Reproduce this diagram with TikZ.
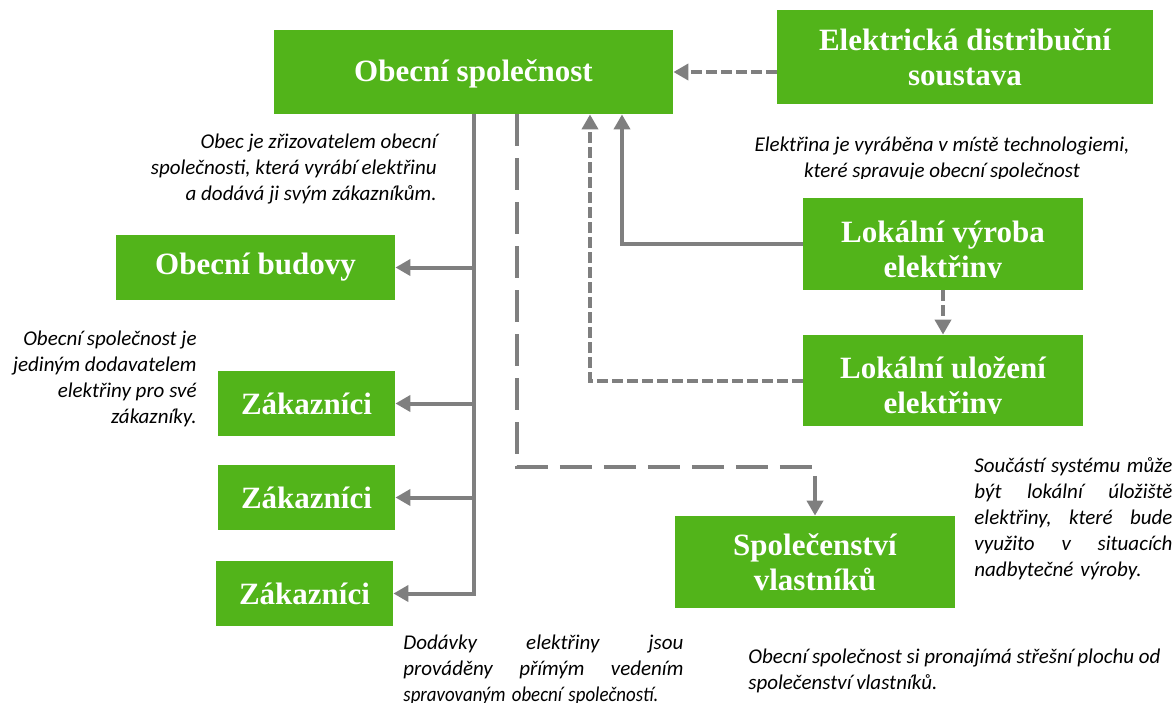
\documentclass[tikz,border=0pt]{standalone}
\usepackage{fontspec}
\usepackage{graphicx}
\setmainfont{Liberation Serif}
\newfontfamily\notefont{Carlito}
\usetikzlibrary{arrows.meta,positioning}
\definecolor{boxgreen}{HTML}{52B41A}
\definecolor{linegray}{HTML}{7F7F7F}

\begin{document}
\begin{tikzpicture}[x=0.5pt, y=-0.5pt, >={Triangle[length=7.5pt,width=8pt]},
  greenbox/.style={fill=boxgreen, text=white, inner sep=0pt, align=center, font=\fontsize{15.5}{17.5}\selectfont\bfseries},
  note/.style={inner sep=0pt, font=\notefont\itshape\fontsize{10.5}{13}\selectfont},
  flow/.style={->, draw=linegray, line width=2pt},
  shortdash/.style={dash pattern=on 5.5pt off 2pt},
  longdash/.style={dash pattern=on 16pt off 6pt}]
\useasboundingbox (0,0) rectangle (1173,702);
% boxes
\node[greenbox, minimum width=199.5pt, minimum height=42pt] (spol) at (473.5,72) {\rule{0pt}{12.5pt}Obecní společnost};
\node[greenbox, minimum width=188pt, minimum height=47pt] (eds) at (965,57) {Elektrická distribuční\\soustava};
\node[greenbox, minimum width=139.5pt, minimum height=32.5pt] (budovy) at (255.5,267.5) {Obecní budovy};
\node[greenbox, minimum width=88.5pt, minimum height=32.5pt] (zak1) at (306.5,403.5) {Zákazníci};
\node[greenbox, minimum width=88.5pt, minimum height=32.5pt] (zak2) at (306.5,497.5) {Zákazníci};
\node[greenbox, minimum width=88.5pt, minimum height=32.5pt] (zak3) at (304.5,593.5) {Zákazníci};
\node[greenbox, minimum width=140pt, minimum height=46pt] (vyroba) at (943,244) {\rule{0pt}{19pt}Lokální výroba\\elektřiny};
\node[greenbox, minimum width=140pt, minimum height=45.5pt] (ulozeni) at (943,380.5) {\rule{0pt}{19pt}Lokální uložení\\elektřiny};
\node[greenbox, minimum width=140pt, minimum height=46pt] (svj) at (815,562) {Společenství\\vlastníků};
% text cut off at the bottom of the frame
\fill[boxgreen] ([yshift=6pt]vyroba.south west) rectangle (vyroba.south east);
\fill[boxgreen] ([yshift=6pt]ulozeni.south west) rectangle (ulozeni.south east);
% notes
\node[note, align=right, anchor=north east] (n1) at (437,134) {Obec je zřizovatelem obecní\\společnosti, která vyrábí elektřinu\\a dodává ji svým zákazníkům.};
\begin{scope}
\clip (700,120) rectangle (1173,178);
\node[note, align=center, anchor=north] (n2) at (942,137) {Elektřina je vyráběna v místě technologiemi,\\které spravuje obecní společnost};
\end{scope}
\node[note, align=right, anchor=north east] (n3) at (197,331) {Obecní společnost je\\jediným dodavatelem\\elektřiny pro své\\zákazníky.};
\node[note, align=left, text width=99pt, anchor=north west] (n4) at (974,457) {Součástí\hfill systému\hfill může\\být\hfill lokální\hfill úložiště\\elektřiny,\hfill které\hfill bude\\využito\hfill v\hfill situacích\\nadbytečné výroby.};
\node[note, align=left, text width=140pt, anchor=north west] (n5) at (403,635) {Dodávky\hfill elektřiny\hfill jsou\\prováděny\hfill přímým\hfill vedením\\\scalebox{0.9}[1]{spravovaným obecní společností.}};
\node[note, align=left, anchor=north west] (n6) at (748,649) {Obecní společnost si pronajímá střešní plochu od\\společenství vlastníků.};
% connectors
\draw[flow, shortdash] (spol.east -| eds.west) -- (spol.east);
\draw[flow] (spol.south) |- (zak3.east);
\draw[flow] (spol.south |- budovy.east) -- (budovy.east);
\draw[flow] (spol.south |- zak1.east) -- (zak1.east);
\draw[flow] (spol.south |- zak2.east) -- (zak2.east);
\draw[flow] (vyroba.west) -| ([xshift=74.25pt]spol.south);
\draw[flow, shortdash] (ulozeni.west) -| ([xshift=58.25pt]spol.south);
\draw[flow, shortdash] (vyroba) -- (ulozeni);
\coordinate (bend) at (516.5,467);
\draw[flow, longdash] ([xshift=21.5pt]spol.south) -- (bend) -| (svj.north);
\end{tikzpicture}
\end{document}
